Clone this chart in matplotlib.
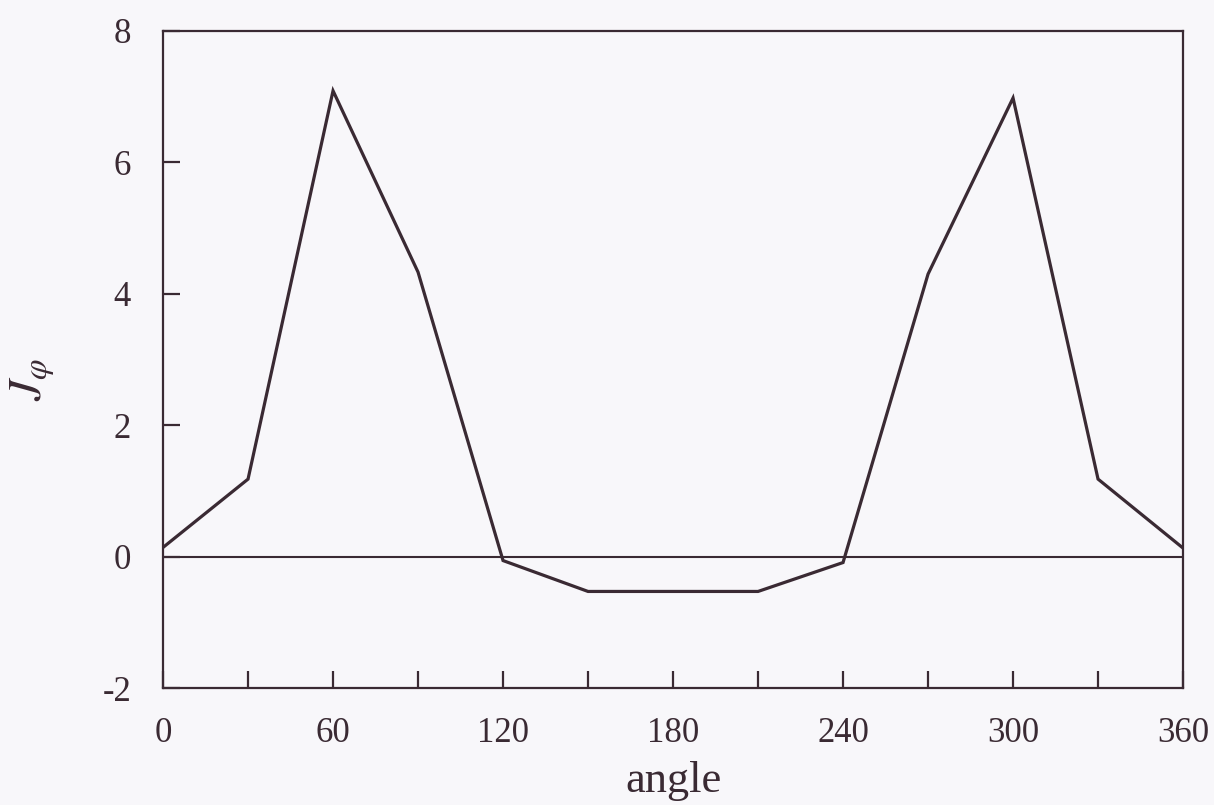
import matplotlib
matplotlib.use('Agg')
import matplotlib.pyplot as plt

# values (one point every 30 degrees)
angle = [0, 30, 60, 90, 120, 150, 180, 210, 240, 270, 300, 330, 360]
j_phi = [0.14, 1.18, 7.09, 4.33, -0.06, -0.53, -0.53, -0.53, -0.09, 4.30, 6.98, 1.18, 0.13]

x_ticks = [0, 30, 60, 90, 120, 150, 180, 210, 240, 270, 300, 330, 360]
x_labels = ['0', '', '60', '', '120', '', '180', '', '240', '', '300', '', '360']
y_ticks = [-2, 0, 2, 4, 6, 8]

INK = '#3a2a33'
PAPER = '#f8f7fa'

plt.rcParams['font.family'] = ['Liberation Serif', 'DejaVu Serif']
plt.rcParams['mathtext.fontset'] = 'stix'
plt.rcParams['axes.unicode_minus'] = False

fig = plt.figure(figsize=(12.14, 8.05), dpi=100, facecolor=PAPER)
ax = fig.add_axes([0.1343, 0.1453, 0.8402, 0.8162])
ax.set_facecolor(PAPER)

ax.axhline(0, color=INK, linewidth=1.5)
ax.plot(angle, j_phi, color=INK, linewidth=2.3, solid_joinstyle='miter')

ax.set_xlim(0, 360)
ax.set_ylim(-2, 8)
ax.set_xticks(x_ticks)
ax.set_xticklabels(x_labels)
ax.set_yticks(y_ticks)

for s in ax.spines.values():
    s.set_color(INK)
    s.set_linewidth(1.6)

ax.tick_params(axis='x', direction='in', length=12, width=1.6, color=INK,
               labelcolor=INK, labelsize=25, pad=21)
ax.tick_params(axis='y', direction='in', length=12, width=1.6, color=INK,
               labelcolor=INK, labelsize=25, pad=23)

ax.set_xlabel('angle', fontsize=32, color=INK, labelpad=8)
ax.set_ylabel(r'$J_{\varphi}$', fontsize=34, color=INK)
ax.yaxis.set_label_coords(-0.104, 0.47)

fig.savefig('out.png', dpi=100, facecolor=PAPER)
